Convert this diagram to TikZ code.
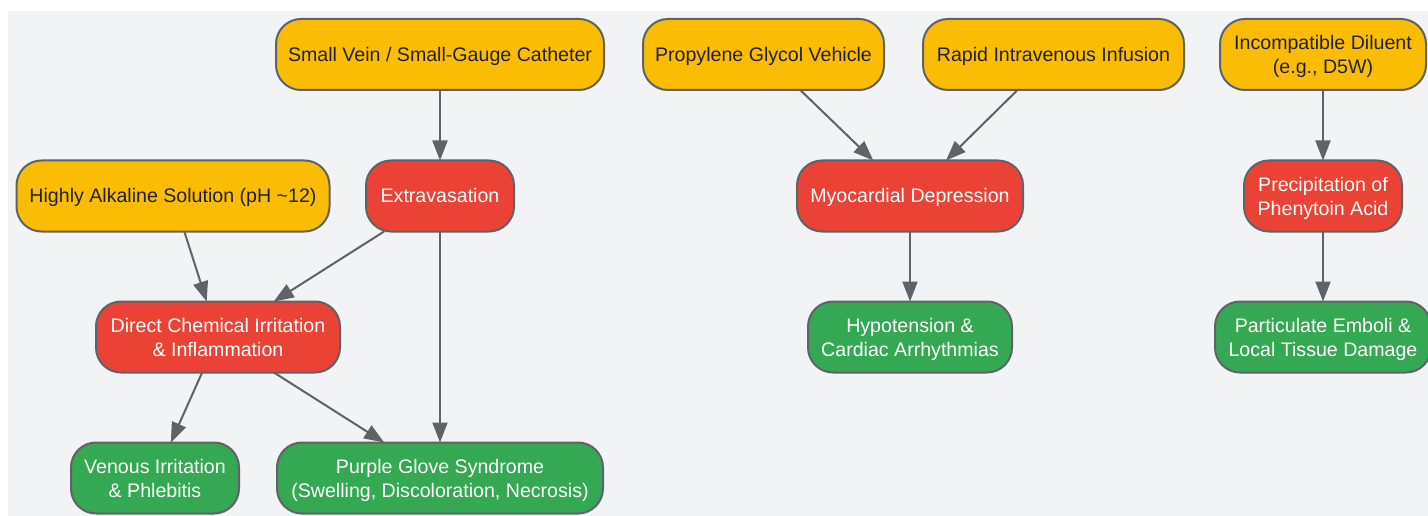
\documentclass[tikz,border=0pt]{standalone}
\usepackage{fontspec}
\setmainfont{Liberation Sans}
\usetikzlibrary{arrows.meta}
\definecolor{bgc}{HTML}{F1F3F4}
\definecolor{ylw}{HTML}{FBBC04}
\definecolor{rdc}{HTML}{EA4335}
\definecolor{grn}{HTML}{34A853}
\definecolor{edgec}{HTML}{5F6368}
\definecolor{txtd}{HTML}{202124}
\tikzset{
  box/.style={draw=edgec, line width=2pt, rounded corners=25pt, minimum height=71pt,
    align=center, inner sep=0pt, outer sep=0pt, font=\fontsize{19.6pt}{24pt}\selectfont},
  one/.style={text height=15pt, text depth=1pt},
  two/.style={text height=39pt, text depth=1pt},
  cause/.style={box, fill=ylw, text=txtd},
  mech/.style={box, fill=rdc, text=white},
  effect/.style={box, fill=grn, text=white},
  conn/.style={draw=edgec, line width=2pt, -{Triangle[length=20pt,width=15pt]}}
}
\begin{document}
\begin{tikzpicture}[x=1pt,y=-1pt]
\useasboundingbox (0,0) rectangle (1428,516);
\fill[bgc] (8,11) rectangle (1428,516);
\node[cause, one, minimum width=328pt] (sv) at (440,54.5) {Small Vein / Small-Gauge Catheter};
\node[cause, one, minimum width=241pt] (pg) at (763.5,54.5) {Propylene Glycol Vehicle};
\node[cause, one, minimum width=261pt] (ri) at (1053.5,54.5) {Rapid Intravenous Infusion};
\node[cause, two, minimum width=206pt] (id) at (1323,54.5) {Incompatible Diluent\\(e.g., D5W)};
\node[cause, one, minimum width=313pt] (ha) at (173,196) {Highly Alkaline Solution (pH \textasciitilde12)};
\node[mech, one, minimum width=148pt] (ex) at (440,196) {Extravasation};
\node[mech, one, minimum width=226pt] (md) at (910,196) {Myocardial Depression};
\node[mech, two, minimum width=158pt] (pp) at (1323,196) {Precipitation of\\Phenytoin Acid};
\node[mech, two, minimum width=244pt] (dc) at (218,337) {Direct Chemical Irritation\\\& Inflammation};
\node[effect, two, minimum width=204pt] (hy) at (910,337) {Hypotension \&\\Cardiac Arrhythmias};
\node[effect, two, minimum width=216pt] (pe) at (1323,337) {Particulate Emboli \&\\Local Tissue Damage};
\node[effect, two, minimum width=168pt] (vi) at (155,478) {Venous Irritation\\\& Phlebitis};
\node[effect, two, minimum width=326pt] (ps) at (440,478) {Purple Glove Syndrome\\(Swelling, Discoloration, Necrosis)};
\draw[conn] (sv) -- (ex);
\draw[conn] (ha) -- (dc);
\draw[conn] (ex) -- (dc);
\draw[conn] (ex) -- (ps);
\draw[conn] (dc) -- (vi);
\draw[conn] (dc) -- (ps);
\draw[conn] (pg) -- (md);
\draw[conn] (ri) -- (md);
\draw[conn] (md) -- (hy);
\draw[conn] (id) -- (pp);
\draw[conn] (pp) -- (pe);
\end{tikzpicture}
\end{document}
